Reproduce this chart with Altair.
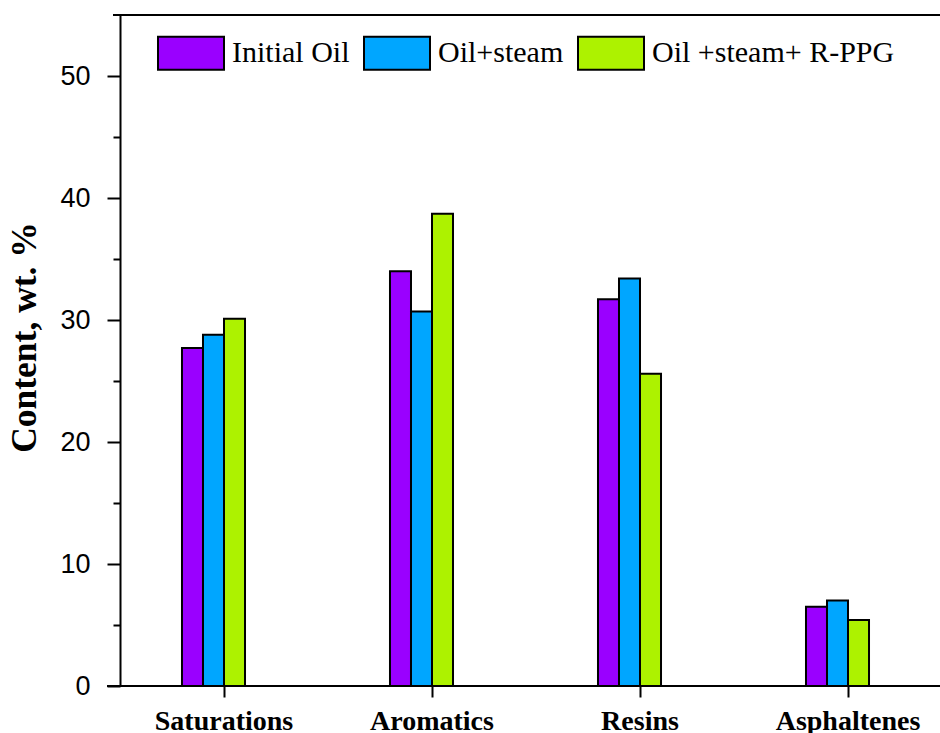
import altair as alt
import pandas as pd

# SARA fractions of the oil samples, wt. %
categories = ["Saturations", "Aromatics", "Resins", "Asphaltenes"]
series = ["Initial Oil", "Oil+steam", "Oil +steam+ R-PPG"]
initial_oil = [27.7, 34.0, 31.7, 6.5]
oil_steam = [28.8, 30.7, 33.4, 7.0]
oil_steam_rppg = [30.1, 38.7, 25.6, 5.4]
colors = ["#9a00ff", "#00a6ff", "#adf200"]

rows = []
for name, vals in zip(series, [initial_oil, oil_steam, oil_steam_rppg]):
    for cat, v in zip(categories, vals):
        rows.append({"fraction": cat, "sample": name, "content": v})
df = pd.DataFrame(rows)

W, H = 820, 671

bars = alt.Chart(df).mark_bar(stroke="black", strokeWidth=2).encode(
    x=alt.X(
        "fraction:N",
        sort=categories,
        scale=alt.Scale(range=[0, 811], paddingInner=0.697, paddingOuter=0.298),
        axis=alt.Axis(
            title=None,
            domain=False,
            bandPosition=0.667,
            labelAngle=0,
            labelOffset=10.5,
            labelFont="Liberation Serif",
            labelFontWeight="bold",
            labelFontSize=28,
            labelColor="black",
            labelPadding=10,
            tickSize=11,
            tickWidth=2,
            tickColor="black",
        ),
    ),
    xOffset=alt.XOffset("sample:N", sort=series, scale=alt.Scale(paddingInner=0, paddingOuter=0)),
    y=alt.Y(
        "content:Q",
        scale=alt.Scale(domain=[0, 55], nice=False),
        axis=alt.Axis(
            title="Content, wt. %",
            titleFont="Liberation Serif",
            titleFontWeight="bold",
            titleFontSize=35.5,
            titleColor="black",
            titlePadding=17,
            titleY=322,
            values=list(range(0, 55, 5)),
            labelExpr="datum.value % 10 == 0 ? datum.label : ''",
            labelFont="Liberation Sans",
            labelFontSize=27,
            labelColor="black",
            labelPadding=17,
            tickSize={"condition": {"test": "datum.value % 10 != 0", "value": 7}, "value": 13},
            tickWidth=2,
            tickColor="black",
            domainWidth=2,
            domainColor="black",
            grid=False,
        ),
    ),
    fill=alt.Fill(
        "sample:N",
        sort=series,
        scale=alt.Scale(domain=series, range=colors),
        legend=alt.Legend(
            title=None,
            orient="none",
            legendX=37,
            legendY=4,
            direction="horizontal",
            symbolType="M-1,-0.5L1,-0.5L1,0.5L-1,0.5Z",
            symbolSize=4356,
            symbolStrokeColor="black",
            symbolStrokeWidth=2,
            symbolOpacity=1,
            labelFont="Liberation Serif",
            labelFontSize=30,
            labelColor="black",
            labelOffset=7,
            labelLimit=0,
            columnPadding=10,
            padding=0,
        ),
    ),
)

# frame lines: top border and bottom axis line
top_line = alt.Chart(df).mark_rule(color="black", strokeWidth=2).encode(
    x=alt.value(-7), x2=alt.value(W), y=alt.value(0)
)
bottom_line = alt.Chart(df).mark_rule(color="black", strokeWidth=2).encode(
    x=alt.value(-13), x2=alt.value(W), y=alt.value(H)
)

chart = (
    alt.layer(bars, top_line, bottom_line)
    .properties(
        width=W,
        height=H,
        autosize=alt.AutoSizeParams(type="none"),
        padding={"left": 120, "top": 15, "right": 0, "bottom": 47},
        background="white",
    )
    .configure_view(stroke=None)
)

chart.save("out.html", embed_options={"renderer": "svg", "actions": False})
